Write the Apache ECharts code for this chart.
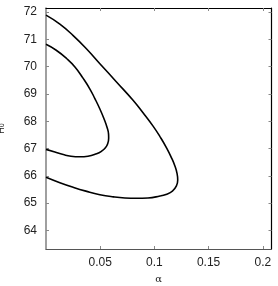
<!DOCTYPE html>
<html>
<head>
<meta charset="utf-8">
<script src="https://cdn.jsdelivr.net/npm/echarts@6/dist/echarts.min.js"></script>
<style>html,body{margin:0;padding:0;background:#fff;}#c{width:278px;height:286px;}</style>
</head>
<body>
<div id="c"></div>
<script>
// Outer contour (alpha, H0)
var outerAlpha = [0, 0.0128, 0.0251, 0.0377, 0.0497, 0.0646, 0.0803, 0.0895, 0.0986, 0.1051, 0.1113, 0.1159, 0.1189, 0.1208, 0.1215, 0.1203, 0.1166, 0.1106, 0.1051, 0.094, 0.0836, 0.0728, 0.062, 0.0497, 0.0368, 0.0251, 0.0128, 0];
var outerH0    = [71.89, 71.56, 71.14, 70.64, 70.11, 69.46, 68.77, 68.31, 67.83, 67.44, 67.02, 66.65, 66.36, 66.10, 65.85, 65.63, 65.44, 65.32, 65.26, 65.19, 65.18, 65.19, 65.23, 65.31, 65.44, 65.58, 65.75, 65.95];
// Inner contour
var innerAlpha = [0, 0.0091, 0.019, 0.0267, 0.0343, 0.0405, 0.0451, 0.0497, 0.0534, 0.0562, 0.0577, 0.0578, 0.0569, 0.0548, 0.0511, 0.0467, 0.0387, 0.0313, 0.023, 0.0159, 0.0082, 0];
var innerH0    = [70.82, 70.61, 70.30, 69.99, 69.57, 69.18, 68.83, 68.45, 68.10, 67.79, 67.53, 67.38, 67.18, 67.03, 66.90, 66.81, 66.72, 66.70, 66.72, 66.78, 66.87, 66.97];
// Tick labels
var xTicks = [0.05, 0.1, 0.15, 0.2];
var yTicks = [64, 65, 66, 67, 68, 69, 70, 71, 72];

function pairs(a, b) { return a.map(function (v, i) { return [v, b[i]]; }); }

var chart = echarts.init(document.getElementById('c'), null, { renderer: 'canvas' });
var font = 'Liberation Sans, Arial, Helvetica, sans-serif';
var xMin = 0, xMax = 0.208, yMin = 63.32, yMax = 72.15;

chart.setOption({
  animation: false,
  backgroundColor: '#fff',
  grid: { left: 46, right: 6.5, top: 8, bottom: 37, containLabel: false, outerBoundsMode: 'none' },
  xAxis: [{
    type: 'value', min: xMin, max: xMax, position: 'bottom',
    name: 'α', nameLocation: 'middle', nameGap: 25,
    nameTextStyle: { fontFamily: 'DejaVu Serif, serif', fontSize: 10, color: '#222' },
    splitLine: { show: false },
    axisLine: { show: true, onZero: false, lineStyle: { color: '#555', width: 1.2 } },
    axisTick: { show: true, inside: true, length: 3, customValues: xTicks, lineStyle: { color: '#888' } },
    axisLabel: { show: true, customValues: xTicks, margin: 8, fontFamily: font, fontSize: 12, color: '#222',
      formatter: function (v) { return String(Math.round(v * 100) / 100); } }
  }, {
    type: 'value', min: xMin, max: xMax, position: 'top',
    splitLine: { show: false },
    axisLine: { show: true, onZero: false, lineStyle: { color: '#000', width: 1.2 } },
    axisTick: { show: true, inside: true, length: 3, customValues: xTicks, lineStyle: { color: '#888' } },
    axisLabel: { show: false }
  }],
  yAxis: [{
    type: 'value', min: yMin, max: yMax, position: 'left',
    name: 'H{s|0}', nameLocation: 'middle', nameGap: 40, nameRotate: 90,
    nameTextStyle: { fontFamily: font, fontSize: 9, color: '#222',
      rich: { s: { fontFamily: font, fontSize: 7, color: '#222', verticalAlign: 'bottom' } } },
    splitLine: { show: false },
    axisLine: { show: true, onZero: false, lineStyle: { color: '#888', width: 1.6 } },
    axisTick: { show: true, inside: true, length: 3, customValues: yTicks, lineStyle: { color: '#888' } },
    axisLabel: { show: true, customValues: yTicks, margin: 9, fontFamily: font, fontSize: 12, color: '#222' }
  }, {
    type: 'value', min: yMin, max: yMax, position: 'right',
    splitLine: { show: false },
    axisLine: { show: true, onZero: false, lineStyle: { color: '#000', width: 1.2 } },
    axisTick: { show: true, inside: true, length: 3, customValues: yTicks, lineStyle: { color: '#888' } },
    axisLabel: { show: false }
  }],
  series: [{
    type: 'line', name: 'outer', data: pairs(outerAlpha, outerH0), smooth: 0.5,
    showSymbol: false, symbol: 'none', clip: true,
    lineStyle: { color: '#000', width: 1.6 }
  }, {
    type: 'line', name: 'inner', data: pairs(innerAlpha, innerH0), smooth: 0.5,
    showSymbol: false, symbol: 'none', clip: true,
    lineStyle: { color: '#000', width: 1.6 }
  }]
});
</script>
</body>
</html>
